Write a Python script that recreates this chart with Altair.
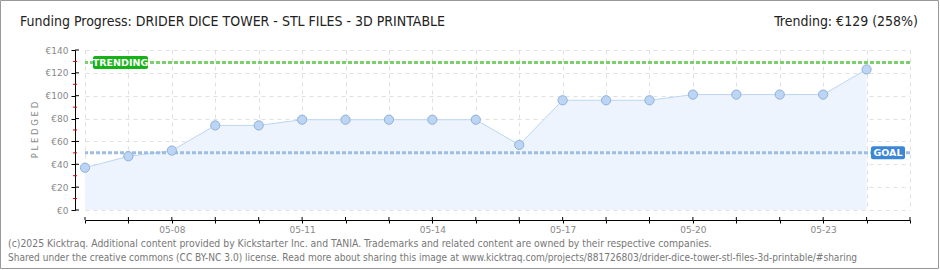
import json
import altair as alt
import pandas as pd

# ---- data ----
dates = ["2025-05-06", "2025-05-07", "2025-05-08", "2025-05-09", "2025-05-10",
         "2025-05-11", "2025-05-12", "2025-05-13", "2025-05-14", "2025-05-15",
         "2025-05-16", "2025-05-17", "2025-05-18", "2025-05-19", "2025-05-20",
         "2025-05-21", "2025-05-22", "2025-05-23", "2025-05-24"]
pledged = [37, 47, 52, 74, 74, 79, 79, 79, 79, 79, 57, 96, 96, 96, 101, 101, 101, 101, 123]
goal = 50
trending = 129
trending_pct = 258
y_ticks = [0, 20, 40, 60, 80, 100, 120, 140]
y_minor = [10, 30, 50, 70, 90, 110, 130]
axis_days = list(range(6, 26))
x_labels = ["05-08", "05-11", "05-14", "05-17", "05-20", "05-23"]

title_text = "Funding Progress: DRIDER DICE TOWER - STL FILES - 3D PRINTABLE"
trend_text = f"Trending:  €{trending} ({trending_pct}%)"
footer1 = "(c)2025 Kicktraq. Additional content provided by Kickstarter Inc. and TANIA. Trademarks and related content are owned by their respective companies."
footer2 = "Shared under the creative commons (CC BY-NC 3.0) license. Read more about sharing this image at www.kicktraq.com/projects/881726803/drider-dice-tower-stl-files-3d-printable/#sharing"

df = pd.DataFrame({"date": dates, "pledged": pledged})
df["day"] = pd.to_datetime(df["date"]).dt.day

label_days = [int(s[-2:]) for s in x_labels]

W, H = 825, 160
PL, PT, PR, PB = 85, 50, 30, 60

TITLE_FONT = "Liberation Sans Narrow, DejaVu Sans Condensed, sans-serif"
SMALL_FONT = "DejaVu Sans, sans-serif"
FOOT_FONT = "DejaVu Sans Condensed, DejaVu Sans, sans-serif"

xs = alt.Scale(domain=[6, 25], nice=False, zero=False)
ys = alt.Scale(domain=[0, 140], nice=False, zero=True)

x_axis = alt.Axis(
    values=axis_days,
    labelExpr="indexof(" + json.dumps(label_days) + ", datum.value) >= 0 ? '05-' + (datum.value < 10 ? '0' : '') + datum.value : ''",
    grid=True, gridDash=[4, 4], gridColor="#e0e0e0",
    domainColor="black", tickColor="black", tickSize=3, offset=10,
    labelColor="#888888", labelFont=SMALL_FONT, labelFontSize=9, labelPadding=2,
    labelOverlap=False, labelFlush=False, title=None,
)
y_axis = alt.Axis(
    values=y_ticks, labelExpr="'€' + datum.value",
    grid=True, gridDash=[4, 4], gridColor="#e0e0e0",
    domainColor="black", tickColor="black", tickSize=4, offset=10,
    labelColor="#888888", labelFont=SMALL_FONT, labelFontSize=9, labelPadding=3,
    title=None,
)

def X(field):
    return alt.X(field, scale=xs, axis=x_axis)

def Y(field):
    return alt.Y(field, scale=ys, axis=y_axis)

area = alt.Chart(df).mark_area(
    color="#edf4fd", opacity=1,
    line={"color": "#bcd5f3", "strokeWidth": 1},
).encode(x=X("day:Q"), y=Y("pledged:Q"))

points = alt.Chart(df).mark_circle(
    size=85, color="#bcd5f4", stroke="#90b0d8", strokeWidth=1, opacity=1
).encode(x=X("day:Q"), y=Y("pledged:Q"))

lines_df = pd.DataFrame({"name": ["TRENDING", "GOAL"], "v": [trending, goal]})

trend_rule = alt.Chart(lines_df.iloc[[0]]).mark_rule(
    color="#7ccf6c", strokeWidth=3, strokeDash=[4, 2]
).encode(y=Y("v:Q"))

goal_rule = alt.Chart(lines_df.iloc[[1]]).mark_rule(
    color="#9dbde3", strokeWidth=3, strokeDash=[4, 2]
).encode(y=Y("v:Q"))

trend_box = alt.Chart(lines_df.iloc[[0]]).mark_rect(
    color="#17b217", cornerRadius=2, yOffset=-6.5, y2Offset=6.5
).encode(y=Y("v:Q"), y2="v:Q", x=alt.value(8), x2=alt.value(63))
trend_lbl = alt.Chart(lines_df.iloc[[0]]).mark_text(
    color="white", font=SMALL_FONT, fontSize=9.5, fontWeight="bold",
    align="center", baseline="middle",
).encode(y=Y("v:Q"), x=alt.value(35.5), text="name:N")

goal_box = alt.Chart(lines_df.iloc[[1]]).mark_rect(
    color="#3c86d6", cornerRadius=2, yOffset=-6.5, y2Offset=6.5
).encode(y=Y("v:Q"), y2="v:Q", x=alt.value(786), x2=alt.value(820))
goal_lbl = alt.Chart(lines_df.iloc[[1]]).mark_text(
    color="white", font=SMALL_FONT, fontSize=9.5, fontWeight="bold",
    align="center", baseline="middle",
).encode(y=Y("v:Q"), x=alt.value(803), text="name:N")

# inner parts of y ticks and red minor ticks
ymaj_df = pd.DataFrame({"t": y_ticks})
ymin_df = pd.DataFrame({"t": y_minor})
ymaj = alt.Chart(ymaj_df).mark_rule(color="black").encode(
    y=Y("t:Q"), x=alt.value(-10), x2=alt.value(-6))
ymin = alt.Chart(ymin_df).mark_rule(color="#e00000").encode(
    y=Y("t:Q"), x=alt.value(-12), x2=alt.value(-8))

xt_df = pd.DataFrame({"d": axis_days})
xt = alt.Chart(xt_df).mark_rule(color="black").encode(
    x=X("d:Q"), y=alt.value(H + 7), y2=alt.value(H + 10))

one = pd.DataFrame({"a": [0]})

def txt(text, x, y, **kw):
    return alt.Chart(one).mark_text(text=text, **kw).encode(x=alt.value(x), y=alt.value(y))

title = txt(title_text, 20 - PL, 22 - PT, font=TITLE_FONT, fontSize=14,
            color="#222222", align="left", baseline="middle")
trend_t = txt(trend_text, 918 - PL, 22 - PT, font=TITLE_FONT, fontSize=14,
              color="#222222", align="right", baseline="middle")
ytitle = txt("P L E D G E D", 35 - PL, 130 - PT, font=SMALL_FONT, fontSize=8.5,
             color="#8a8a8a", align="center", baseline="middle", angle=270)
f1 = txt(footer1, 8 - PL, 243.5 - PT, font=FOOT_FONT, fontSize=10.35,
         color="#777777", align="left", baseline="middle")
f2 = txt(footer2, 8 - PL, 257.5 - PT, font=FOOT_FONT, fontSize=10.05,
         color="#777777", align="left", baseline="middle")

border = alt.Chart(one).mark_rect(fill=None, stroke="#999999", strokeWidth=1).encode(
    x=alt.value(0.5 - PL), x2=alt.value(938.5 - PL),
    y=alt.value(0.5 - PT), y2=alt.value(268.5 - PT),
)

chart = alt.layer(
    area, trend_rule, goal_rule, points, trend_box, trend_lbl, goal_box, goal_lbl,
    ymaj, ymin, xt, title, trend_t, ytitle, f1, f2, border,
).properties(
    width=W, height=H,
    autosize=alt.AutoSizeParams(type="none"),
    padding={"left": PL, "top": PT, "right": PR, "bottom": PB},
    background="white",
).configure_view(stroke=None)

chart.save("out.html", embed_options={"renderer": "svg", "actions": False})
